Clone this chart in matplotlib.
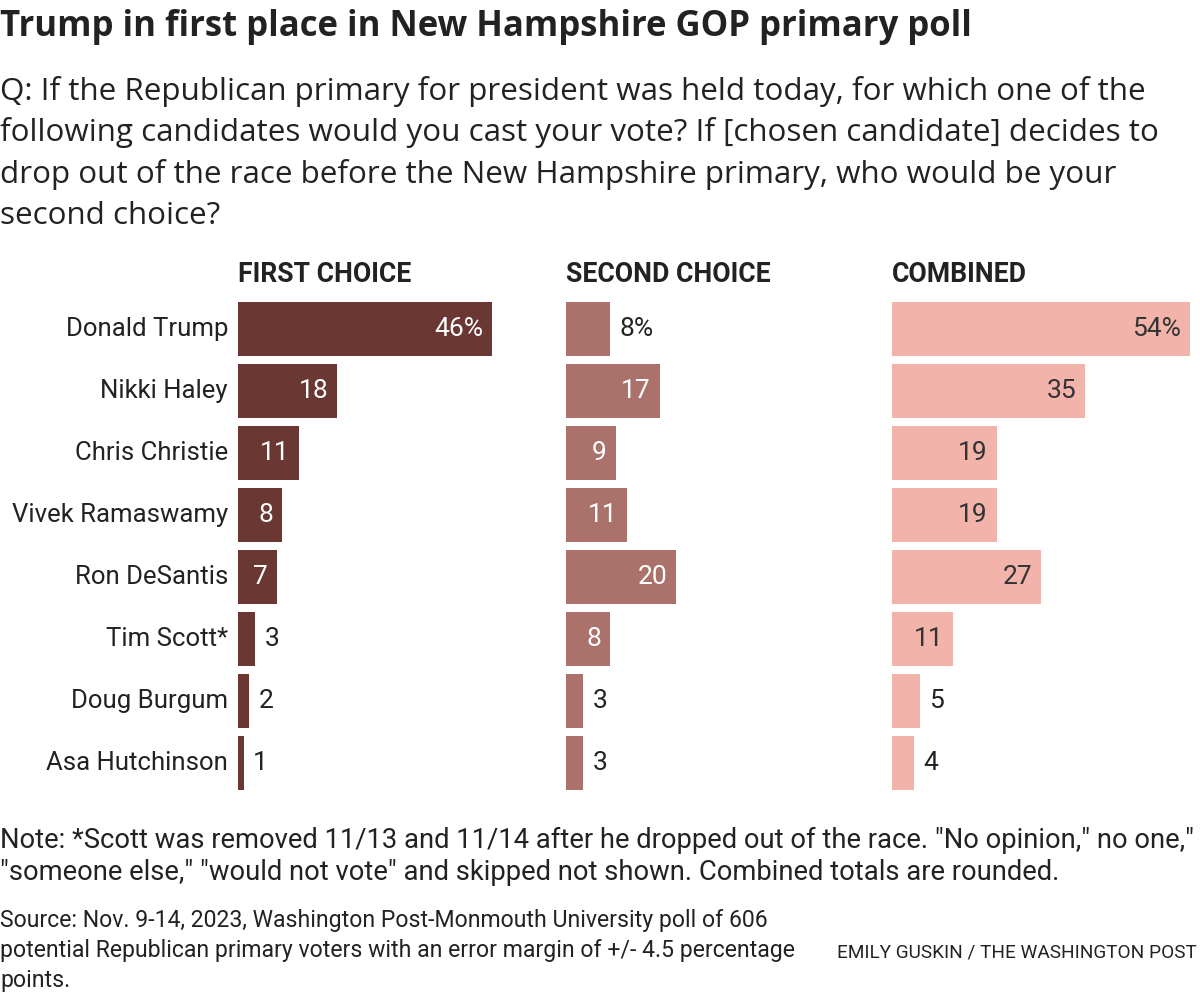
import matplotlib.pyplot as plt

# data
candidates = ["Donald Trump", "Nikki Haley", "Chris Christie", "Vivek Ramaswamy",
              "Ron DeSantis", "Tim Scott*", "Doug Burgum", "Asa Hutchinson"]
first_choice = [46, 18, 11, 8, 7, 3, 2, 1]
second_choice = [8, 17, 9, 11, 20, 8, 3, 3]
combined = [54, 35, 19, 19, 27, 11, 5, 4]
panel_titles = ["FIRST CHOICE", "SECOND CHOICE", "COMBINED"]
panel_colors = ["#6b3733", "#ab716b", "#f2b3aa"]
inside_text = ["white", "white", "#333333"]

question_lines = [
    "Q: If the Republican primary for president was held today, for which one of the",
    "following candidates would you cast your vote? If [chosen candidate] decides to",
    "drop out of the race before the New Hampshire primary, who would be your",
    "second choice?",
]
note_lines = [
    'Note: *Scott was removed 11/13 and 11/14 after he dropped out of the race. "No opinion," no one,"',
    '"someone else," "would not vote" and skipped not shown. Combined totals are rounded.',
]
source_lines = [
    "Source: Nov. 9-14, 2023, Washington Post-Monmouth University poll of 606",
    "potential Republican primary voters with an error margin of +/- 4.5 percentage",
    "points.",
]

plt.rcParams["font.family"] = ["Roboto", "DejaVu Sans"]

W, H = 1200, 996
fig = plt.figure(figsize=(W / 100, H / 100), dpi=100)
fig.patch.set_facecolor("white")


def fx(px):
    return px / W


def fy(py):
    return 1 - py / H


TXT = "#222222"

fig.text(fx(0), fy(36), "Trump in first place in New Hampshire GOP primary poll",
         fontsize=25, fontweight="bold", family="Open Sans", color=TXT, va="baseline")

for i, line in enumerate(question_lines):
    fig.text(fx(0), fy(100 + 41.5 * i), line, fontsize=22.6, family="Open Sans",
             color=TXT, va="baseline")

# bar panels
px_per_pct = 5.52
panel_left = [238, 566, 892]
panel_w = 305
top_px, bot_px = 298, 794
series = [first_choice, second_choice, combined]

for k, vals in enumerate(series):
    ax = fig.add_axes([fx(panel_left[k]), fy(bot_px), fx(panel_w), (bot_px - top_px) / H])
    ax.set_xlim(0, panel_w / px_per_pct)
    ax.set_ylim(len(candidates) - 0.5, -0.5)
    ax.barh(range(len(candidates)), vals, height=0.87, color=panel_colors[k])
    ax.axis("off")
    for i, v in enumerate(vals):
        lab = f"{v}%" if i == 0 else str(v)
        bar_px = v * px_per_pct
        need = 11 * len(lab) + 24
        if bar_px > need:
            ax.annotate(lab, (v, i), xytext=(-6.5, 0), textcoords="offset points",
                        ha="right", va="center", fontsize=19, color=inside_text[k])
        else:
            ax.annotate(lab, (v, i), xytext=(7, 0), textcoords="offset points",
                        ha="left", va="center", fontsize=19, color=TXT)
    fig.text(fx(panel_left[k]), fy(282), panel_titles[k], fontsize=19.2, fontweight="bold",
             color=TXT, va="baseline")

# row labels
for i, name in enumerate(candidates):
    yc = top_px + 31 + 62 * i
    fig.text(fx(228), fy(yc), name, fontsize=18.5, color=TXT, ha="right", va="center")

for i, line in enumerate(note_lines):
    fig.text(fx(0), fy(848 + 32 * i), line, fontsize=19.7, color=TXT, va="baseline")

for i, line in enumerate(source_lines):
    fig.text(fx(0), fy(927 + 30 * i), line, fontsize=16.6, color=TXT, va="baseline")

fig.text(fx(1197), fy(957), "EMILY GUSKIN / THE WASHINGTON POST", fontsize=13.7,
         color=TXT, ha="right", va="baseline")

fig.savefig("out.png", dpi=100, facecolor="white")
